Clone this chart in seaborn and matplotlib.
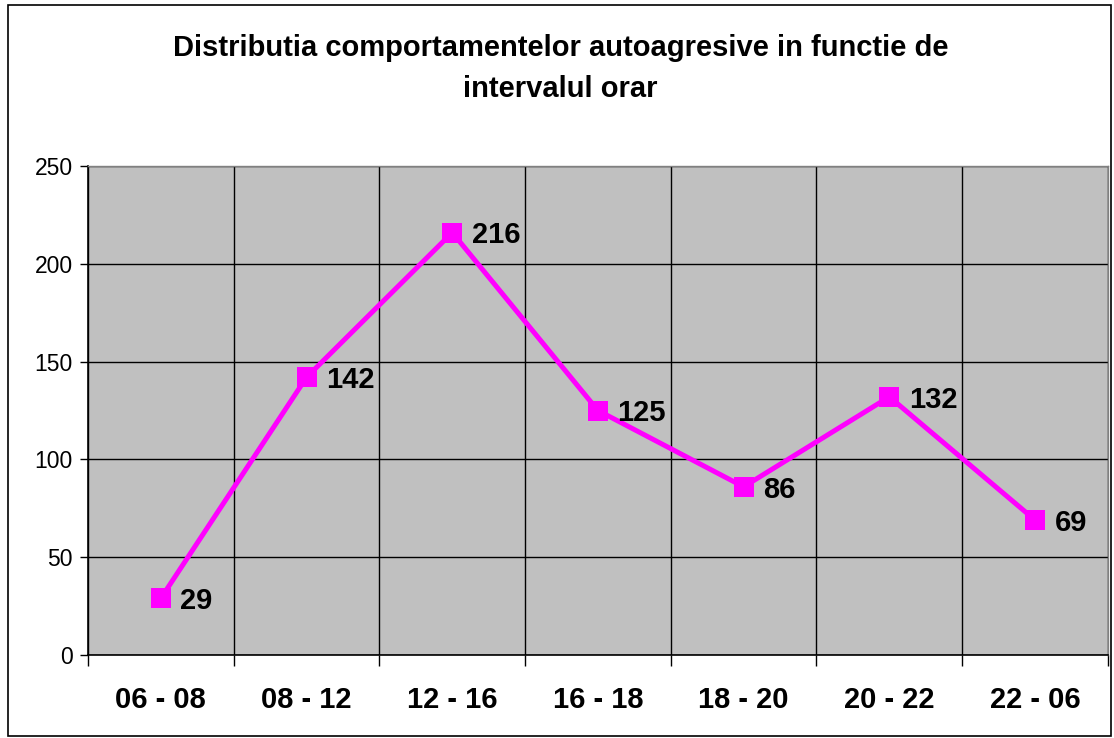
import pandas as pd
import seaborn as sns
import matplotlib.pyplot as plt
from matplotlib.patches import Rectangle

# Date
intervale = ["06 - 08", "08 - 12", "12 - 16", "16 - 18", "18 - 20", "20 - 22", "22 - 06"]
valori = [29, 142, 216, 125, 86, 132, 69]
y_ticks = [0, 50, 100, 150, 200, 250]

df = pd.DataFrame({"interval": intervale, "valoare": valori})
df["pos"] = range(len(df))

sns.set_style("white")
plt.rcParams['font.family'] = ['Liberation Sans', 'DejaVu Sans']
plt.rcParams['text.color'] = "black"
plt.rcParams['xtick.color'] = "black"
plt.rcParams['ytick.color'] = "black"

fig = plt.figure(figsize=(11.14, 7.38), dpi=100)
ax = fig.add_axes([0.079, 0.1125, 0.9155, 0.6625])
ax.set_facecolor("#c0c0c0")

sns.lineplot(data=df, x="pos", y="valoare", ax=ax, color="#ff00ff", linewidth=3.6,
             marker="s", markersize=15, markeredgewidth=0, zorder=5)

for i, v in enumerate(valori):
    ax.annotate(str(v), (i, v), xytext=(14, -2), textcoords="offset points",
                fontsize=21, fontweight="bold", va="center", ha="left", zorder=6)

ax.set_xlim(-0.5, len(intervale) - 0.5)
ax.set_ylim(0, 250)
ax.set_yticks(y_ticks)
ax.set_yticklabels([str(t) for t in y_ticks], fontsize=16.5)

# granite intre categorii
ax.set_xticks([i + 0.5 for i in range(-1, len(intervale))])
ax.set_xticklabels([])
ax.set_xticks(range(len(intervale)), minor=True)
ax.set_xticklabels(intervale, minor=True, fontsize=21, fontweight="bold")
ax.tick_params(axis="x", which="minor", length=0, pad=22)
ax.tick_params(axis="x", which="major", length=8, width=1, color="black", direction="out")
ax.tick_params(axis="y", length=6, width=1, color="black", direction="out", pad=5)
ax.xaxis.set_ticks_position("bottom")
ax.yaxis.set_ticks_position("left")

ax.grid(True, which="major", color="black", linewidth=1)
ax.set_axisbelow(True)

for s in ["top", "right"]:
    ax.spines[s].set_color("#808080")
    ax.spines[s].set_linewidth(1)
for s in ["left", "bottom"]:
    ax.spines[s].set_color("black")
    ax.spines[s].set_linewidth(1.2)

ax.set_xlabel("")
ax.set_ylabel("")

fig.text(0.503, 0.935, "Distributia comportamentelor autoagresive in functie de",
         ha="center", va="center", fontsize=21, fontweight="bold")
fig.text(0.503, 0.88, "intervalul orar", ha="center", va="center", fontsize=21, fontweight="bold")

fig.patches.append(Rectangle((0.007, 0.003), 0.99, 0.99, transform=fig.transFigure,
                             fill=False, edgecolor="black", linewidth=1.2))

plt.savefig("out.png", dpi=100)
